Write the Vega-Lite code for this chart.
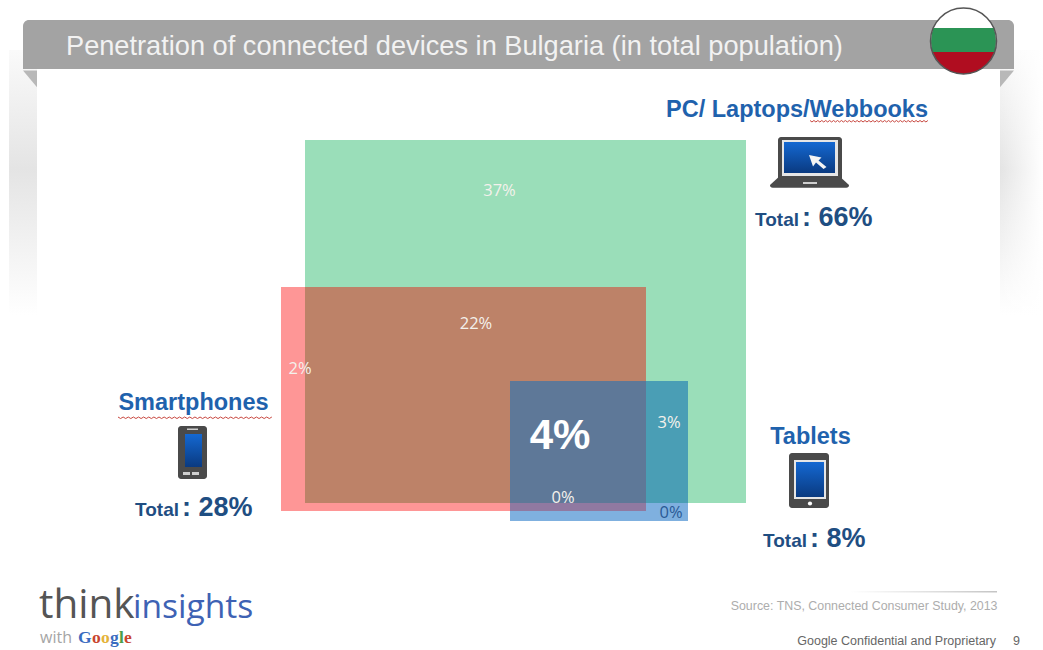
{
  "$schema": "https://vega.github.io/schema/vega-lite/v6.json",
  "width": 1043,
  "height": 650,
  "padding": 0,
  "autosize": {"type": "fit", "contains": "padding"},
  "background": "white",
  "view": {"stroke": null},
  "encoding": {
    "x": {"field": "x", "type": "quantitative", "scale": {"domain": [0, 104.3], "nice": false, "zero": false}, "axis": null},
    "y": {"field": "y", "type": "quantitative", "scale": {"domain": [65, 0], "nice": false, "zero": false}, "axis": null}
  },
  "resolve": {"scale": {"color": "independent"}},
  "layer": [
    {
      "data": {"values": [{"x": 0.9, "x2": 3.7, "y": 5, "y2": 31.5}]},
      "mark": {"type": "rect", "color": {"gradient": "linear", "x1": 0, "y1": 0, "x2": 0, "y2": 1, "stops": [{"offset": 0, "color": "#fafafa"}, {"offset": 0.45, "color": "#e4e4e4"}, {"offset": 1, "color": "#ffffff"}]}},
      "encoding": {"x2": {"field": "x2"}, "y2": {"field": "y2"}}
    },
    {
      "data": {"values": [{"x": 100, "x2": 104.3, "y": 5, "y2": 31.5}]},
      "mark": {"type": "rect", "color": {"gradient": "linear", "x1": 0, "y1": 0, "x2": 0, "y2": 1, "stops": [{"offset": 0, "color": "#fafafa"}, {"offset": 0.45, "color": "#e4e4e4"}, {"offset": 1, "color": "#ffffff"}]}},
      "encoding": {"x2": {"field": "x2"}, "y2": {"field": "y2"}}
    },
    {
      "data": {"values": [{"x": 100, "x2": 104.3, "y": 5, "y2": 31.5}]},
      "mark": {"type": "rect", "color": {"gradient": "linear", "x1": 0, "y1": 0, "x2": 1, "y2": 0, "stops": [{"offset": 0, "color": "rgba(255,255,255,0)"}, {"offset": 1, "color": "#ffffff"}]}},
      "encoding": {"x2": {"field": "x2"}, "y2": {"field": "y2"}}
    },
    {
      "data": {"values": [{"x": 2.3, "x2": 101.4, "y": 2, "y2": 6.9}]},
      "mark": {"type": "rect", "color": "#a3a3a3", "cornerRadiusTopLeft": 6, "cornerRadiusTopRight": 6},
      "encoding": {"x2": {"field": "x2"}, "y2": {"field": "y2"}}
    },
    {
      "data": {"values": [{"x": 3.0, "y": 7.75}]},
      "mark": {"type": "point", "shape": "M-1 -1 L1 -1 L1 1.4 Z", "size": 196, "filled": true, "color": "#b8b8b8", "opacity": 1},
      "encoding": {}
    },
    {
      "data": {"values": [{"x": 100.7, "y": 7.75}]},
      "mark": {"type": "point", "shape": "M-1 -1 L1 -1 L-1 1.4 Z", "size": 196, "filled": true, "color": "#b8b8b8", "opacity": 1},
      "encoding": {}
    },
    {
      "data": {"values": [{"x": 6.6, "y": 5.45, "text": "Penetration of connected devices in Bulgaria (in total population)"}]},
      "mark": {"type": "text", "align": "left", "baseline": "alphabetic", "font": "Liberation Sans", "fontSize": 27.2, "color": "#f2f2f2"},
      "encoding": {"text": {"field": "text"}}
    },
    {
      "data": {"values": [{"x": 96.35, "y": 4.1}]},
      "mark": {"type": "point", "shape": "circle", "size": 4356, "filled": true, "color": "#ffffff", "opacity": 1},
      "encoding": {}
    },
    {
      "data": {"values": [{"x": 96.35, "y": 4.1}]},
      "mark": {"type": "point", "shape": "M-.919 -.394 L.919 -.394 C1 -.13 1 .11 .943 .333 L-.943 .333 C-1 .11 -1 -.13 -.919 -.394 Z", "size": 4356, "filled": true, "color": "#2b9455", "opacity": 1},
      "encoding": {}
    },
    {
      "data": {"values": [{"x": 96.35, "y": 4.1}]},
      "mark": {"type": "point", "shape": "M-.943 .333 C-.76 .78 -.38 1 0 1 C.38 1 .76 .78 .943 .333 Z", "size": 4356, "filled": true, "color": "#b00d20", "opacity": 1},
      "encoding": {}
    },
    {
      "data": {"values": [{"x": 96.35, "y": 4.1}]},
      "mark": {"type": "point", "shape": "circle", "size": 4356, "filled": false, "stroke": "#555555", "strokeWidth": 1.5, "opacity": 1},
      "encoding": {}
    },
    {
      "data": {"name": "venn", "values": [
        {"segment": "PC only", "share": 37, "x": 30.5, "x2": 74.6, "y": 14.0, "y2": 50.3},
        {"segment": "Smartphone only", "share": 2, "x": 28.1, "x2": 64.6, "y": 28.7, "y2": 51.1},
        {"segment": "PC and smartphone", "share": 22, "x": 30.5, "x2": 64.6, "y": 28.7, "y2": 50.3},
        {"segment": "Tablet only", "share": 0, "x": 51.0, "x2": 68.8, "y": 38.1, "y2": 52.1},
        {"segment": "Smartphone and tablet", "share": 0, "x": 51.0, "x2": 64.6, "y": 38.1, "y2": 51.1},
        {"segment": "PC and tablet", "share": 3, "x": 51.0, "x2": 68.8, "y": 38.1, "y2": 50.3},
        {"segment": "All three", "share": 4, "x": 51.0, "x2": 64.6, "y": 38.1, "y2": 50.3}
      ]},
      "mark": {"type": "rect"},
      "encoding": {
        "x2": {"field": "x2"},
        "y2": {"field": "y2"},
        "color": {
          "field": "segment",
          "type": "nominal",
          "legend": null,
          "scale": {
            "domain": ["PC only", "Smartphone only", "PC and smartphone", "Tablet only", "Smartphone and tablet", "PC and tablet", "All three"],
            "range": ["#9adeb9", "#fe9696", "#bd8268", "#7fb0df", "#9079a1", "#4a9eb5", "#5e7898"]
          }
        }
      }
    },
    {
      "data": {"values": [
        {"x": 49.95, "y": 19.6, "share": 37},
        {"x": 47.6, "y": 32.9, "share": 22},
        {"x": 30.0, "y": 37.4, "share": 2},
        {"x": 66.9, "y": 42.8, "share": 3},
        {"x": 56.3, "y": 50.3, "share": 0}
      ]},
      "transform": [{"calculate": "datum.share + '%'", "as": "label"}],
      "mark": {"type": "text", "align": "center", "baseline": "alphabetic", "font": "Open Sans", "fontSize": 16.5, "color": "#f4f1ec"},
      "encoding": {"text": {"field": "label"}}
    },
    {
      "data": {"values": [{"x": 67.1, "y": 51.8, "share": 0}]},
      "transform": [{"calculate": "datum.share + '%'", "as": "label"}],
      "mark": {"type": "text", "align": "center", "baseline": "alphabetic", "font": "Open Sans", "fontSize": 16.5, "color": "#2a5a95"},
      "encoding": {"text": {"field": "label"}}
    },
    {
      "data": {"values": [{"x": 56.0, "y": 44.9, "share": 4}]},
      "transform": [{"calculate": "datum.share + '%'", "as": "label"}],
      "mark": {"type": "text", "align": "center", "baseline": "alphabetic", "font": "Liberation Sans", "fontWeight": "bold", "fontSize": 42, "color": "#ffffff"},
      "encoding": {"text": {"field": "label"}}
    },
    {
      "data": {"values": [
        {"x": 79.7, "y": 11.7, "text": "PC/ Laptops/Webbooks"},
        {"x": 19.35, "y": 41.0, "text": "Smartphones"},
        {"x": 81.05, "y": 44.4, "text": "Tablets"}
      ]},
      "mark": {"type": "text", "align": "center", "baseline": "alphabetic", "font": "Liberation Sans", "fontWeight": "bold", "fontSize": 23.5, "color": "#1f62ad"},
      "encoding": {"text": {"field": "text"}}
    },
    {
      "data": {"values": [{"x": 86.9, "y": 12.05}]},
      "mark": {"type": "point", "shape": "M-1 0 l.0333 .025l.0333-.025l.0333 .025l.0333-.025l.0333 .025l.0333-.025l.0333 .025l.0333-.025l.0333 .025l.0333-.025 l.0333 .025l.0333-.025l.0333 .025l.0333-.025l.0333 .025l.0333-.025l.0333 .025l.0333-.025l.0333 .025l.0333-.025 l.0333 .025l.0333-.025l.0333 .025l.0333-.025l.0333 .025l.0333-.025l.0333 .025l.0333-.025l.0333 .025l.0333-.025 l.0333 .025l.0333-.025l.0333 .025l.0333-.025l.0333 .025l.0333-.025l.0333 .025l.0333-.025l.0333 .025l.0333-.025 l.0333 .025l.0333-.025l.0333 .025l.0333-.025l.0333 .025l.0333-.025l.0333 .025l.0333-.025l.0333 .025l.0333-.025 l.0333 .025l.0333-.025l.0333 .025l.0333-.025l.0333 .025l.0333-.025l.0333 .025l.0333-.025l.0333 .025l.0333-.025", "size": 13924, "filled": false, "stroke": "#c8473f", "strokeWidth": 1, "opacity": 1},
      "encoding": {}
    },
    {
      "data": {"values": [{"x": 19.5, "y": 41.7}]},
      "mark": {"type": "point", "shape": "M-1 0 l.0333 .02l.0333-.02l.0333 .02l.0333-.02l.0333 .02l.0333-.02l.0333 .02l.0333-.02l.0333 .02l.0333-.02 l.0333 .02l.0333-.02l.0333 .02l.0333-.02l.0333 .02l.0333-.02l.0333 .02l.0333-.02l.0333 .02l.0333-.02 l.0333 .02l.0333-.02l.0333 .02l.0333-.02l.0333 .02l.0333-.02l.0333 .02l.0333-.02l.0333 .02l.0333-.02 l.0333 .02l.0333-.02l.0333 .02l.0333-.02l.0333 .02l.0333-.02l.0333 .02l.0333-.02l.0333 .02l.0333-.02 l.0333 .02l.0333-.02l.0333 .02l.0333-.02l.0333 .02l.0333-.02l.0333 .02l.0333-.02l.0333 .02l.0333-.02 l.0333 .02l.0333-.02l.0333 .02l.0333-.02l.0333 .02l.0333-.02l.0333 .02l.0333-.02l.0333 .02l.0333-.02", "size": 23716, "filled": false, "stroke": "#c8473f", "strokeWidth": 1, "opacity": 1},
      "encoding": {}
    },
    {
      "data": {"values": [
        {"x": 75.5, "y": 22.6, "text": "Total"},
        {"x": 13.5, "y": 51.6, "text": "Total"},
        {"x": 76.3, "y": 54.7, "text": "Total"}
      ]},
      "mark": {"type": "text", "align": "left", "baseline": "alphabetic", "font": "Liberation Sans", "fontWeight": "bold", "fontSize": 19, "color": "#1f4e82"},
      "encoding": {"text": {"field": "text"}}
    },
    {
      "data": {"values": [
        {"x": 80.2, "y": 22.6, "total": 66},
        {"x": 18.2, "y": 51.6, "total": 28},
        {"x": 81.0, "y": 54.7, "total": 8}
      ]},
      "transform": [{"calculate": "': ' + datum.total + '%'", "as": "label"}],
      "mark": {"type": "text", "align": "left", "baseline": "alphabetic", "font": "Liberation Sans", "fontWeight": "bold", "fontSize": 27, "color": "#1f4e82"},
      "encoding": {"text": {"field": "label"}}
    },
    {
      "data": {"values": [
        {"x": 77.8, "x2": 84.2, "y": 13.7, "y2": 18.2},
        {"x": 17.8, "x2": 20.7, "y": 42.6, "y2": 47.9},
        {"x": 78.9, "x2": 82.9, "y": 45.3, "y2": 50.8}
      ]},
      "mark": {"type": "rect", "color": "#4a4a4a", "cornerRadius": 3},
      "encoding": {"x2": {"field": "x2"}, "y2": {"field": "y2"}}
    },
    {
      "data": {"values": [{"x": 80.95, "y": 18.3}]},
      "mark": {"type": "point", "shape": "M-.8 -.13 L.8 -.13 L1 .05 Q1 .12 .93 .12 L-.93 .12 Q-1 .12 -1 .05 Z", "size": 6241, "filled": true, "color": "#4a4a4a", "opacity": 1},
      "encoding": {}
    },
    {
      "data": {"values": [
        {"x": 79.4, "x2": 82.6, "y": 46.0, "y2": 49.9},
        {"x": 78.2, "x2": 83.8, "y": 14.0, "y2": 17.6}
      ]},
      "mark": {"type": "rect", "color": "#e6e6e6"},
      "encoding": {"x2": {"field": "x2"}, "y2": {"field": "y2"}}
    },
    {
      "data": {"values": [
        {"x": 78.4, "x2": 83.5, "y": 14.2, "y2": 17.3},
        {"x": 18.5, "x2": 20.2, "y": 43.4, "y2": 46.7},
        {"x": 79.6, "x2": 82.4, "y": 46.2, "y2": 49.7}
      ]},
      "mark": {"type": "rect", "color": {"gradient": "linear", "x1": 0, "y1": 0, "x2": 0, "y2": 1, "stops": [{"offset": 0, "color": "#1468d2"}, {"offset": 1, "color": "#0a3a80"}]}},
      "encoding": {"x2": {"field": "x2"}, "y2": {"field": "y2"}}
    },
    {
      "data": {"values": [{"x": 81.8, "y": 16.1}]},
      "mark": {"type": "point", "shape": "M-.9 -.6 L.35 -.35 L.05 -.05 L.85 .6 L.55 .8 L-.2 .15 L-.5 .55 Z", "size": 400, "filled": true, "color": "#f4f4f4", "opacity": 1},
      "encoding": {}
    },
    {
      "data": {"values": [
        {"x": 80.3, "x2": 81.7, "y": 18.2, "y2": 18.4},
        {"x": 18.3, "x2": 19.0, "y": 47.2, "y2": 47.5},
        {"x": 19.2, "x2": 19.9, "y": 47.2, "y2": 47.5},
        {"x": 18.7, "x2": 19.8, "y": 42.85, "y2": 43.0}
      ]},
      "mark": {"type": "rect", "color": "#cfcfcf"},
      "encoding": {"x2": {"field": "x2"}, "y2": {"field": "y2"}}
    },
    {
      "data": {"values": [{"x": 81.0, "y": 50.35}]},
      "mark": {"type": "point", "shape": "circle", "size": 18, "filled": true, "color": "#ffffff", "opacity": 1},
      "encoding": {}
    },
    {
      "data": {"values": [{"x": 3.9, "y": 61.8, "text": "think"}]},
      "mark": {"type": "text", "align": "left", "baseline": "alphabetic", "font": "Open Sans", "fontSize": 40.5, "color": "#555555"},
      "encoding": {"text": {"field": "text"}}
    },
    {
      "data": {"values": [{"x": 13.3, "y": 61.8, "text": "insights"}]},
      "mark": {"type": "text", "align": "left", "baseline": "alphabetic", "font": "Open Sans", "fontSize": 33.6, "fontWeight": 400, "color": "#3e62b4"},
      "encoding": {"text": {"field": "text"}}
    },
    {
      "data": {"values": [{"x": 4.0, "y": 64.3, "text": "with"}]},
      "mark": {"type": "text", "align": "left", "baseline": "alphabetic", "font": "Open Sans", "fontSize": 16, "color": "#a5a5a5"},
      "encoding": {"text": {"field": "text"}}
    },
    {
      "data": {"values": [
        {"x": 7.8, "y": 64.3, "pos": "1", "letter": "G"},
        {"x": 9.2, "y": 64.3, "pos": "2", "letter": "o"},
        {"x": 10.1, "y": 64.3, "pos": "3", "letter": "o"},
        {"x": 11.0, "y": 64.3, "pos": "4", "letter": "g"},
        {"x": 11.9, "y": 64.3, "pos": "5", "letter": "l"},
        {"x": 12.4, "y": 64.3, "pos": "6", "letter": "e"}
      ]},
      "mark": {"type": "text", "align": "left", "baseline": "alphabetic", "font": "Liberation Serif", "fontWeight": "bold", "fontSize": 17.5},
      "encoding": {
        "text": {"field": "letter"},
        "color": {"field": "pos", "type": "nominal", "legend": null, "scale": {"domain": ["1", "2", "3", "4", "5", "6"], "range": ["#3a6cc0", "#c8452f", "#e4b33a", "#3a6cc0", "#4c9e4a", "#c8452f"]}}
      }
    },
    {
      "data": {"values": [{"x": 85.0, "x2": 99.7, "y": 59.1, "y2": 59.25}]},
      "mark": {"type": "rect", "color": {"gradient": "linear", "x1": 0, "y1": 0, "x2": 1, "y2": 0, "stops": [{"offset": 0, "color": "rgba(200,200,200,0)"}, {"offset": 1, "color": "#c4c4c4"}]}},
      "encoding": {"x2": {"field": "x2"}, "y2": {"field": "y2"}}
    },
    {
      "data": {"values": [{"x": 99.75, "y": 61.0, "text": "Source: TNS, Connected Consumer Study, 2013"}]},
      "mark": {"type": "text", "align": "right", "baseline": "alphabetic", "font": "Liberation Sans", "fontSize": 12.4, "color": "#adadad"},
      "encoding": {"text": {"field": "text"}}
    },
    {
      "data": {"values": [
        {"x": 99.6, "y": 64.5, "text": "Google Confidential and Proprietary"},
        {"x": 102.0, "y": 64.5, "text": "9"}
      ]},
      "mark": {"type": "text", "align": "right", "baseline": "alphabetic", "font": "Liberation Sans", "fontSize": 12.5, "color": "#666666"},
      "encoding": {"text": {"field": "text"}}
    }
  ]
}
